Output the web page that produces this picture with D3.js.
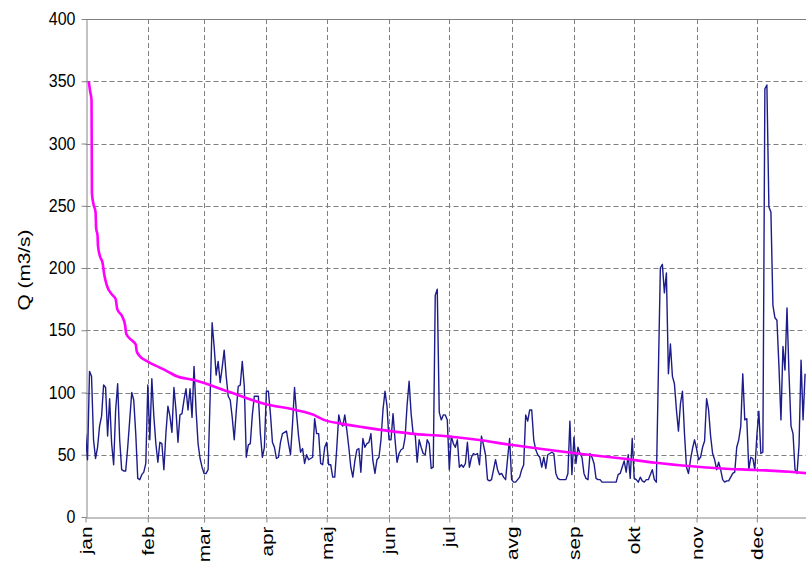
<!DOCTYPE html>
<html><head><meta charset="utf-8">
<script src="https://cdn.jsdelivr.net/npm/d3@7/dist/d3.min.js"></script>
<style>
body{margin:0;background:#fff;}
svg{display:block;font-family:"Liberation Sans",Arial,sans-serif;}
</style>
</head><body>
<svg id="chart" width="806" height="561"></svg>
<script>
// ---- data ----
const months = ["jan","feb","mar","apr","maj","jun","jul","avg","sep","okt","nov","dec"];
const monthStart = [0,31,59,90,120,151,181,212,243,273,304,334];
const yTicks = [0,50,100,150,200,250,300,350,400];

// daily discharge Q (m3/s), per month
const janQ = [67,46,117,113,62,47,56,73,81,106,104,65,95,59,42,86,107,62,38,37,37,56,78,100,94,67,31,30,34,36,43];
const febQ = [106,62,111,81,59,44,60,59,38,67,89,81,68,104,86,60,82,83,94,103,86,103,80,121,86,59,47,40];
const marQ = [35,35,38,96,156,137,114,125,108,120,134,113,97,94,80,62,85,105,106,125,105,48,58,59,82,97,97,97,67,48,56];
const aprQ = [101,101,83,60,56,47,48,60,67,68,69,59,50,75,104,83,65,52,55,43,50,46,47,48,79,67,67,43,42,56];
const majQ = [60,42,42,32,32,55,82,75,73,82,70,56,40,32,45,54,55,36,63,56,59,60,67,45,35,46,48,62,86,101,89];
const junQ = [62,62,83,62,44,51,54,55,64,90,109,83,67,67,44,62,56,51,50,62,59,39,40,178,183,84,78,82,82,78];
const julQ = [38,65,59,56,62,40,42,40,43,60,40,48,51,50,51,42,65,58,50,30,29,30,38,46,38,34,35,32,30,47,63];
const avgQ = [30,28,28,30,32,38,42,82,77,86,86,62,54,50,48,40,48,39,50,51,52,51,35,31,30,30,30,30,35,77,34];
const sepQ = [64,43,56,51,48,35,31,30,51,48,43,31,30,30,28,28,28,28,28,28,28,28,34,35,40,45,36,50,31,63];
const oktQ = [31,30,28,32,29,28,30,30,34,38,30,28,115,200,203,180,196,115,139,113,107,86,69,91,101,67,40,35,46,55,62];
const novQ = [55,46,48,56,61,95,86,65,51,46,38,44,38,30,28,29,29,32,35,36,56,62,73,115,78,79,38,48,47,38];
const decQ = [65,85,51,52,344,347,249,245,170,160,158,121,78,137,118,168,115,73,67,38,35,58,126,78,115];

// duration curve (position in days, Q)
const durDay = [1.6,2.3,3.0,3.2,4,5,5.3,6,6.2,7.3,8.5,9.3,10.6,13,15,15.8,18.3,19.7,20.3,23,25,25.5,26.6,30.8,37,40.7,45.4,54,70.6,88.8,104.5,113.6,118.6,126.9,138.6,151.8,161.8,178.4,195,211.5,228,244.7,267,283.5,300,316.7,333.3,353.2,360];
const durQ   = [350,342,335,260,251,245,232,226,218,209,204,195,186,179,175,167,161,154,147,142,138.5,133,130,125,120,117,113,110,101,91,86,82,78,75,72,69,67,65,62,58,54.4,51,47,43.6,41,39,37.8,36,35];

// ---- chart ----
const svg = d3.select("#chart");
const x = d3.scaleLinear().domain([0,365]).range([85.5, 85.5 + 365*2.01]);
const y = d3.scaleLinear().domain([0,400]).range([517,19]);

const daily = [].concat(janQ,febQ,marQ,aprQ,majQ,junQ,julQ,avgQ,sepQ,oktQ,novQ,decQ);
const W = 806;
const stretch = 1.3; // vertical stretch of the original picture

svg.append("defs").append("clipPath").attr("id","pc")
  .append("rect").attr("x",86).attr("y",0).attr("width",W-86).attr("height",520);

// horizontal grid
svg.append("g").selectAll("line").data(yTicks.filter(v=>v>0 && v<400)).join("line")
  .attr("x1",x(0)).attr("x2",W).attr("y1",d=>Math.round(y(d))+0.5).attr("y2",d=>Math.round(y(d))+0.5)
  .attr("stroke","#7f7f7f").attr("stroke-width",1).attr("stroke-dasharray","5,3");
// top border
svg.append("line").attr("x1",x(0)).attr("x2",W).attr("y1",Math.round(y(400))+0.5).attr("y2",Math.round(y(400))+0.5)
  .attr("stroke","#7f7f7f").attr("stroke-width",1);
// vertical grid
svg.append("g").selectAll("line").data(monthStart.slice(1)).join("line")
  .attr("x1",d=>Math.round(x(d))+0.5).attr("x2",d=>Math.round(x(d))+0.5).attr("y1",y(400)).attr("y2",y(0))
  .attr("stroke","#7f7f7f").attr("stroke-width",1).attr("stroke-dasharray","5,3");

// axes
const yAxis = svg.append("g").attr("transform",`translate(${Math.round(x(0))+0.5},0)`)
  .call(d3.axisLeft(y).tickValues(yTicks).tickSize(5).tickPadding(6).tickSizeOuter(0));
yAxis.select(".domain").attr("stroke","#868686");
yAxis.selectAll(".tick line").attr("stroke","#868686");
yAxis.selectAll("text").attr("font-size",16).attr("fill","#000").attr("font-family","Liberation Sans, Arial, sans-serif")
  .attr("transform",`scale(1,${1.12})`);

const xAxis = svg.append("g").attr("transform",`translate(0,${Math.round(y(0))+0.5})`)
  .call(d3.axisBottom(x).tickValues(monthStart).tickFormat((d,i)=>months[i]).tickSize(5).tickSizeOuter(0));
xAxis.select(".domain").attr("stroke","#868686");
xAxis.selectAll(".tick line").attr("stroke","#868686");
xAxis.selectAll("text").attr("font-size",16).attr("fill","#000").attr("font-family","Liberation Sans, Arial, sans-serif")
  .attr("transform",`rotate(-90) scale(${stretch},1)`).attr("text-anchor","end").attr("x",-9/stretch).attr("y",0).attr("dy","0.35em");

// y title
svg.append("text").attr("transform",`translate(30,${(y(0)+y(400))/2+2}) rotate(-90) scale(${stretch},1)`)
  .attr("text-anchor","middle").attr("font-size",16).attr("fill","#000").text("Q (m3/s)");

// lines
const g = svg.append("g").attr("clip-path","url(#pc)");
g.append("path").datum(daily)
  .attr("fill","none").attr("stroke","#1c1c8a").attr("stroke-width",1.4).attr("stroke-linejoin","round")
  .attr("d", d3.line().x((d,i)=>x(i)).y(d=>y(d)));
g.append("path").datum(durDay.map((d,i)=>[d,durQ[i]]))
  .attr("fill","none").attr("stroke","#ff00ff").attr("stroke-width",2.6).attr("stroke-linejoin","round")
  .attr("d", d3.line().x(d=>x(d[0])).y(d=>y(d[1])).curve(d3.curveMonotoneX));
</script>
</body></html>
